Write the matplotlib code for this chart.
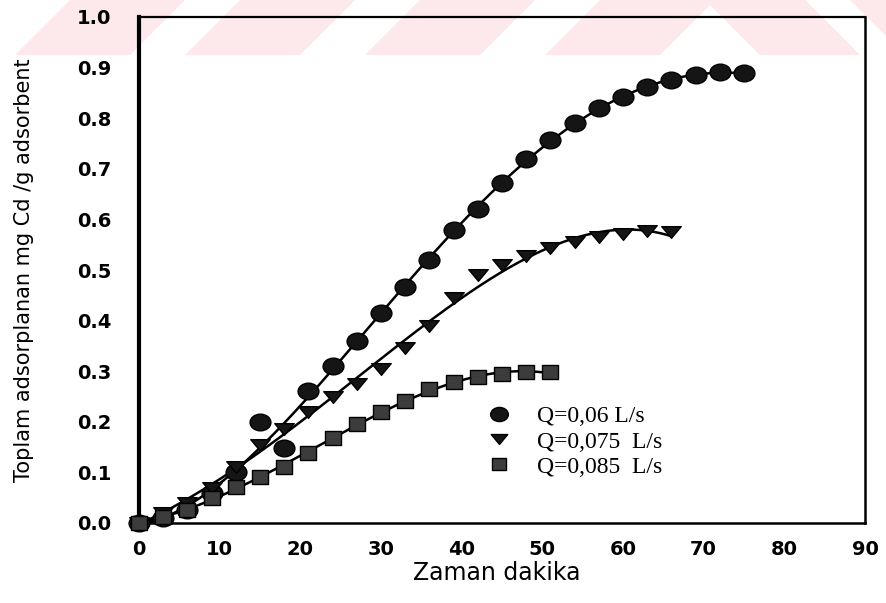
import numpy as np
import matplotlib
matplotlib.use("Agg")
import matplotlib.pyplot as plt
from matplotlib.path import Path
from matplotlib.patches import Polygon
from matplotlib.transforms import Affine2D

# data (time in minutes, mg Cd / g adsorbent)
t_06 = [0, 3, 6, 9, 12, 15, 18, 21, 24, 27, 30, 33, 36, 39, 42, 45, 48,
        51, 54, 57, 60, 63, 66, 69, 72, 75]
q_06 = [0.0, 0.01, 0.025, 0.06, 0.10, 0.20, 0.148, 0.26, 0.31, 0.36, 0.415,
        0.467, 0.52, 0.58, 0.62, 0.672, 0.72, 0.757, 0.79, 0.82, 0.842,
        0.862, 0.875, 0.885, 0.891, 0.889]

t_075 = [0, 3, 6, 9, 12, 15, 18, 21, 24, 27, 30, 33, 36, 39, 42, 45, 48,
         51, 54, 57, 60, 63, 66]
q_075 = [0.0, 0.02, 0.04, 0.07, 0.11, 0.155, 0.185, 0.22, 0.25, 0.275,
         0.305, 0.345, 0.39, 0.445, 0.49, 0.51, 0.528, 0.543, 0.556, 0.565,
         0.572, 0.577, 0.575]

t_085 = [0, 3, 6, 9, 12, 15, 18, 21, 24, 27, 30, 33, 36, 39, 42, 45, 48, 51]
q_085 = [0.0, 0.012, 0.025, 0.05, 0.072, 0.09, 0.11, 0.138, 0.168, 0.195,
         0.219, 0.242, 0.264, 0.279, 0.288, 0.294, 0.299, 0.298]

labels = ["Q=0,06 L/s", "Q=0,075  L/s", "Q=0,085  L/s"]
x_ticks = [0, 10, 20, 30, 40, 50, 60, 70, 80, 90]
y_ticks = [0.0, 0.1, 0.2, 0.3, 0.4, 0.5, 0.6, 0.7, 0.8, 0.9, 1.0]

# slightly flattened marker shapes like the scan
ellipse = Path.unit_circle().transformed(Affine2D().scale(1.25, 1.0))
tri = Path([(-1.0, 0.6), (1.0, 0.6), (0.0, -0.6), (-1.0, 0.6)],
           [Path.MOVETO, Path.LINETO, Path.LINETO, Path.CLOSEPOLY])
rect = Path([(-1.1, -0.9), (1.1, -0.9), (1.1, 0.9), (-1.1, 0.9), (-1.1, -0.9)],
            [Path.MOVETO, Path.LINETO, Path.LINETO, Path.LINETO, Path.CLOSEPOLY])

fig = plt.figure(figsize=(8.87, 6.03), dpi=100)
W, H = 887.0, 603.0

# pale red watermark stripes along the top edge of the page
pink = "#fde8ec"
for x0 in [70, 240, 420, 600]:
    pts = [(x0, 0), (x0 + 115, 0), (x0 + 60, 55), (x0 - 55, 55)]
    fig.patches.append(Polygon([(px / W, 1 - py / H) for px, py in pts],
                               closed=True, transform=fig.transFigure,
                               facecolor=pink, edgecolor="none", zorder=-5))
for x0 in [705, 850]:
    pts = [(x0, 0), (x0 + 100, 0), (x0 + 155, 55), (x0 + 55, 55)]
    fig.patches.append(Polygon([(px / W, 1 - py / H) for px, py in pts],
                               closed=True, transform=fig.transFigure,
                               facecolor=pink, edgecolor="none", zorder=-5))

ax = fig.add_axes([139 / W, 1 - 523 / H, 726 / W, 506 / H])
ax.set_facecolor("none")

series = [
    (t_06, q_06, ellipse, 15, "#151515"),
    (t_075, q_075, tri, 14, "#151515"),
    (t_085, q_085, rect, 12, "#3c3c3c"),
]
for (t, q, mk, ms, fc), lab in zip(series, labels):
    t = np.array(t, dtype=float)
    q = np.array(q, dtype=float)
    coef = np.polyfit(t, q, 4)
    tt = np.linspace(t.min(), t.max(), 300)
    ax.plot(tt, np.polyval(coef, tt), color="black", lw=1.8, zorder=2)
    ax.plot(t, q, linestyle="none", marker=mk, markersize=ms,
            markerfacecolor=fc, markeredgecolor="black", markeredgewidth=1.0,
            label=lab, zorder=3, clip_on=False)

ax.set_xlim(0, 90)
ax.set_ylim(0, 1.0)
ax.set_xticks(x_ticks)
ax.set_yticks(y_ticks)
ax.set_xticklabels([str(v) for v in x_ticks])
ax.set_yticklabels([f"{v:.1f}" for v in y_ticks])
ax.tick_params(length=0, labelsize=14, colors="black")
ax.tick_params(axis="y", pad=20)
ax.tick_params(axis="x", pad=12)
for lbl in ax.get_xticklabels() + ax.get_yticklabels():
    lbl.set_fontweight("bold")

ax.spines["left"].set_linewidth(3.0)
ax.spines["bottom"].set_linewidth(1.8)
ax.spines["top"].set_linewidth(1.6)
ax.spines["right"].set_linewidth(1.8)

ax.set_xlabel("Zaman dakika", fontsize=17)
ax.xaxis.set_label_coords(0.493, -0.075)
ax.set_ylabel("Toplam adsorplanan mg Cd /g adsorbent", fontsize=15)
ax.yaxis.set_label_coords(-0.145, 0.5)

leg = ax.legend(loc="upper left", bbox_to_anchor=(0.45, 0.25), frameon=False,
                prop={"family": "Liberation Serif", "size": 17},
                handletextpad=0.6, labelspacing=0.15, borderaxespad=0,
                markerscale=0.85)

fig.savefig("out.png", dpi=100)
